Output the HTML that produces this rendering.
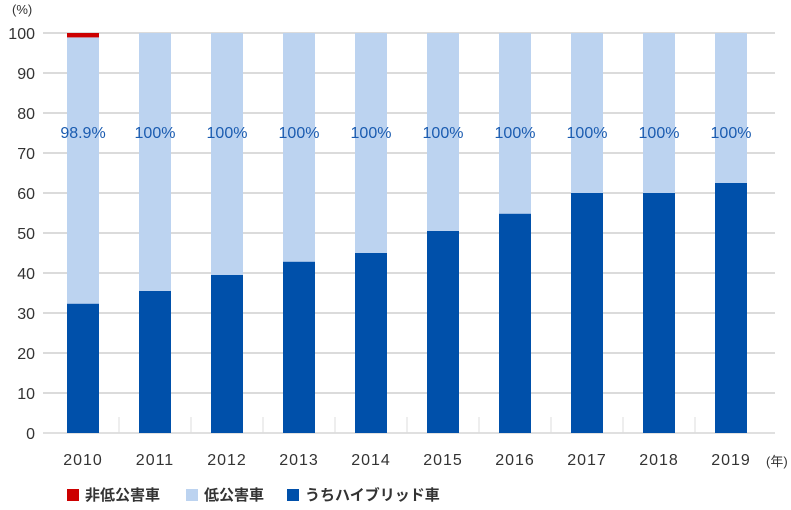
<!DOCTYPE html>
<html><head><meta charset="utf-8"><style>
body{margin:0;background:#fff;font-family:"Liberation Sans","Noto Sans CJK JP",sans-serif}
svg text{font-family:"Liberation Sans","Noto Sans CJK JP",sans-serif}
</style></head><body>
<svg id="c" width="791" height="505" xmlns="http://www.w3.org/2000/svg"></svg>
<script>
const years=["2010","2011","2012","2013","2014","2015","2016","2017","2018","2019"];
const hybrid=[32.3,35.5,39.5,42.8,45,50.5,54.8,60,60,62.5];
const lowEmission=[98.9,100,100,100,100,100,100,100,100,100];
const nonLow=[1.1,0,0,0,0,0,0,0,0,0];
const totalLabels=["98.9%","100%","100%","100%","100%","100%","100%","100%","100%","100%"];
const yTicks=[0,10,20,30,40,50,60,70,80,90,100];
const svg=document.getElementById('c');const NS="http://www.w3.org/2000/svg";
function mk(t,a,p){const e=document.createElementNS(NS,t);for(const k in a)e.setAttribute(k,a[k]);(p||svg).appendChild(e);return e;}
const x0=47,band=72,bw=32,yB=433,yT=33;
const y=v=>yB-(v/100)*(yB-yT);
const xc=i=>x0+band*i+band/2;
for(const t of yTicks){
 const g=mk('line',{x1:43,x2:775,y1:y(t),y2:y(t),stroke:t===0?'#e0e0e0':'#cfcfcf','stroke-width':t===0?2:1.5});
 
 const l=mk('text',{x:35,y:y(t)+6,'text-anchor':'end','font-size':16,fill:'#333'});l.textContent=t;
 
}
for(let i=1;i<years.length;i++){
 const tk=mk('line',{x1:x0+band*i,x2:x0+band*i,y1:417,y2:yB,stroke:'#ddd','stroke-width':1});
 
}
const yl=mk('text',{x:12,y:14,'font-size':13,fill:'#333'});yl.textContent='(%)';

const xl=mk('text',{x:766,y:466,'font-size':13,fill:'#333'});xl.textContent='(年)';

years.forEach((yr,i)=>{
 const l=xc(i)-bw/2;
 const a=mk('rect',{x:l,y:y(lowEmission[i]),width:bw,height:y(0)-y(lowEmission[i]),fill:'#bcd3f0'});
 
 const b=mk('rect',{x:l,y:y(hybrid[i]),width:bw,height:y(0)-y(hybrid[i]),fill:'#0050aa'});
 
 if(nonLow[i]>0){
  const r=mk('rect',{x:l,y:y(lowEmission[i]+nonLow[i]),width:bw,height:y(lowEmission[i])-y(lowEmission[i]+nonLow[i]),fill:'#cc0000'});
  
 }
 const t=mk('text',{x:xc(i),y:138,'text-anchor':'middle','font-size':16,fill:'#1a5bb0'});t.textContent=totalLabels[i];
 
 const xt=mk('text',{x:xc(i),y:465,'text-anchor':'middle','font-size':16,fill:'#333','letter-spacing':'1'});xt.textContent=yr;
 
});
const leg=[["#cc0000","非低公害車",67],["#bcd3f0","低公害車",186],["#0050aa","うちハイブリッド車",287]];
leg.forEach(([c,n,x],i)=>{
 const g=mk('g',{});
 mk('rect',{x:x,y:489,width:12,height:12,fill:c},g);
 const t=mk('text',{x:x+18,y:500,'font-size':15,fill:'#333','font-weight':'bold'},g);t.textContent=n;
});
</script>
</body></html>
